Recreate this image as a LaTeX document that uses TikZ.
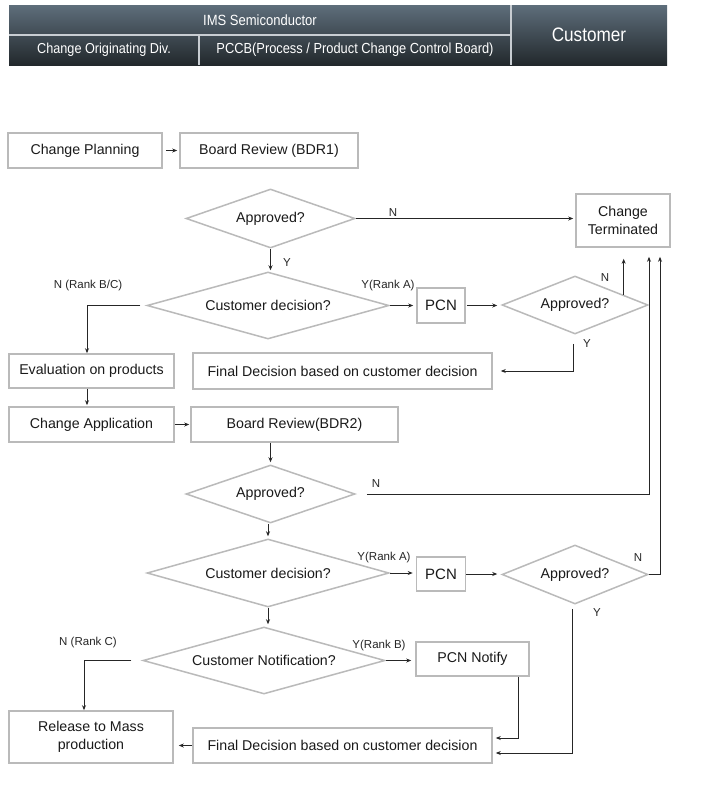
\documentclass[tikz,border=0pt]{standalone}
\usepackage{fontspec}
\setmainfont{Liberation Sans}
\newfontfamily\hdfont{Liberation Sans}[FakeStretch=0.88]
\usetikzlibrary{shapes.geometric,arrows.meta,calc}
\definecolor{boxgray}{RGB}{186,186,186}
\definecolor{hdtop}{RGB}{94,110,123}
\definecolor{hdbot}{RGB}{34,40,44}
\definecolor{hdline}{RGB}{200,205,210}
\definecolor{txt}{RGB}{26,26,26}
\begin{document}
\begin{tikzpicture}[x=1pt,y=-1pt,
  box/.style={draw=boxgray, line width=1.6pt, fill=white, inner sep=0pt, align=center,
    font=\fontsize{14.2}{17.5}\selectfont, text=txt},
  dia/.style={draw=boxgray, line width=1.5pt, diamond, inner sep=0pt, align=center,
    font=\fontsize{14.2}{17}\selectfont, text=txt},
  arr/.style={draw=black!85, line width=0.8pt, -{Stealth[length=5pt,width=4pt]}},
  lbl/.style={font=\fontsize{11.5}{13}\selectfont, text=black!85, inner sep=0pt},
  hd/.style={text=white, inner sep=0pt}
]
\useasboundingbox (0,0) rectangle (708,785);
\fill[white] (0,0) rectangle (708,785);

% header
\shade[top color=hdtop, bottom color=hdbot] (9,5) rectangle (667,65);
\draw[hdline, line width=1.2pt] (9,35) -- (511,35);
\draw[hdline, line width=1.2pt] (199,35) -- (199,65);
\draw[hdline, line width=1.2pt] (511,5) -- (511,65);
\node[hd, font=\hdfont\fontsize{14.8}{17}\selectfont] (h1) at (260,20) {IMS Semiconductor};
\node[hd, font=\hdfont\fontsize{14.4}{17}\selectfont] (h2) at (104,50) {Change Originating Div.};
\node[hd, font=\hdfont\fontsize{14.6}{17}\selectfont] (h3) at (355,50) {PCCB(Process / Product Change Control Board)};
\node[hd, font=\hdfont\fontsize{19.5}{22}\selectfont] (h4) at (589,35) {Customer};

% nodes
\node[box, minimum width=154pt, minimum height=35pt] (cp) at (85,150.5) {Change Planning};
\node[box, minimum width=178pt, minimum height=35pt] (bdr1) at (269,150.5) {Board Review (BDR1)};
\node[dia, minimum width=169pt, minimum height=59pt, shape aspect=2.86] (ap1) at (270.5,218.5) {Approved?};
\node[box, minimum width=94pt, minimum height=53pt] (term) at (623,220.5) {Change\\Terminated};
\node[dia, minimum width=242pt, minimum height=67pt, shape aspect=3.6] (cd1) at (268,305.5) {Customer decision?};
\node[box, minimum width=48pt, minimum height=35pt, font=\fontsize{15}{17}\selectfont] (pcn1) at (441,305.5) {PCN};
\node[dia, minimum width=146pt, minimum height=58pt, shape aspect=2.5] (ap2) at (575,305) {Approved?};
\node[box, minimum width=165pt, minimum height=34pt] (ev) at (91.5,371) {Evaluation on products};
\node[box, minimum width=299pt, minimum height=36pt] (fd1) at (342.5,371) {Final Decision based on customer decision};
\node[box, minimum width=165pt, minimum height=35pt] (ca) at (91.5,424.5) {Change Application};
\node[box, minimum width=207pt, minimum height=35pt] (bdr2) at (294.5,424.5) {Board Review(BDR2)};
\node[dia, minimum width=169pt, minimum height=58pt, shape aspect=2.9] (ap3) at (270.5,494) {Approved?};
\node[dia, minimum width=242pt, minimum height=68pt, shape aspect=3.56] (cd2) at (268,573) {Customer decision?};
\node[box, minimum width=49pt, minimum height=34pt, font=\fontsize{15}{17}\selectfont] (pcn2) at (441,574) {PCN};
\node[dia, minimum width=146pt, minimum height=59pt, shape aspect=2.47] (ap4) at (575,574.5) {Approved?};
\node[dia, minimum width=242pt, minimum height=67pt, shape aspect=3.6] (cn) at (264,660.5) {Customer Notification?};
\node[box, minimum width=113pt, minimum height=34pt] (pcnn) at (472.5,659) {PCN Notify};
\node[box, minimum width=164pt, minimum height=52pt] (rel) at (91,737) {Release to Mass\\production};
\node[box, minimum width=299pt, minimum height=35pt] (fd2) at (342.5,745.5) {Final Decision based on customer decision};

% connectors
\draw[arr, shorten <=3pt, shorten >=2pt] (cp) -- (bdr1);

\draw[arr, shorten >=2pt] (ap1.east) -- (ap1.east -| term.west);
\node[lbl] (lN1) at (393,213) {N};

\draw[arr, shorten >=1pt] (ap1.south) -- (ap1.south |- cd1.north);
\node[lbl] (lY1) at (287,263) {Y};

\draw[arr, shorten <=6pt] (cd1.west) -| ([xshift=-4.5pt]ev.north);
\node[lbl] (lNBC) at (88,286) {N (Rank B/C)};

\draw[arr, shorten >=3pt] (cd1.east) -- (cd1.east -| pcn1.west);
\node[lbl] (lYA1) at (388,286) {Y(Rank A)};

\draw[arr, shorten <=1pt, shorten >=4pt] (pcn1.east) -- (pcn1.east -| ap2.west);

\coordinate (ap2n) at ($(ap2.east)!0.34!(ap2.north)$);
\draw[arr, shorten >=11pt] (ap2n) -- (ap2n |- term.south);
\node[lbl] (lN2) at (605,278) {N};

\draw[arr, shorten <=9pt, shorten >=8pt] ([xshift=-2pt]ap2.south) |- (fd1.east);
\node[lbl] (lY2) at (587,344) {Y};

\draw[arr, shorten >=1pt] ([xshift=-4.5pt]ev.south) -- ([xshift=-4.5pt]ca.north);
\draw[arr, shorten >=1pt] (ca.east) -- (bdr2.west);
\draw[arr, shorten >=2pt] (ap3.north |- bdr2.south) -- (ap3.north);

\coordinate (c649) at ([xshift=26pt]term.south);
\draw[arr, shorten <=11pt, shorten >=9pt] (ap3.east) -| (c649);
\node[lbl] (lN3) at (376,484) {N};

\draw[arr, shorten >=2pt] (cd2.north |- ap3.south) -- (cd2.north);

\draw[arr, shorten >=3pt] (cd2.east) -- (cd2.east -| pcn2.west);
\node[lbl] (lYA2) at (384,558) {Y(Rank A)};
\draw[arr, shorten >=4pt] (pcn2.east) -- (pcn2.east -| ap4.west);

\coordinate (c660) at ([xshift=37pt]term.south);
\draw[arr, shorten >=9pt] (ap4.east) -| (c660);
\node[lbl] (lN4) at (638,558) {N};

\draw[arr, shorten <=4pt, shorten >=3pt] ([xshift=-3pt]ap4.south) |- ([yshift=-7.5pt]fd2.east);
\node[lbl] (lY4) at (597,613) {Y};

\draw[arr, shorten >=3pt] ([xshift=45.5pt]pcnn.south) |- ([yshift=7.5pt]fd2.east);

\draw[arr, shorten >=2pt] (cd2.south) -- (cd2.south |- cn.north);

\draw[arr, shorten <=11pt] (cn.west) -| ([xshift=-7pt]rel.north);
\node[lbl] (lNC) at (88,643) {N (Rank C)};

\draw[arr, shorten >=4pt] (cn.east) -- (cn.east -| pcnn.west);
\node[lbl] (lYB) at (379,646) {Y(Rank B)};

\draw[arr, shorten >=5pt] (fd2.west) -- (fd2.west -| rel.east);
\end{tikzpicture}
\end{document}
